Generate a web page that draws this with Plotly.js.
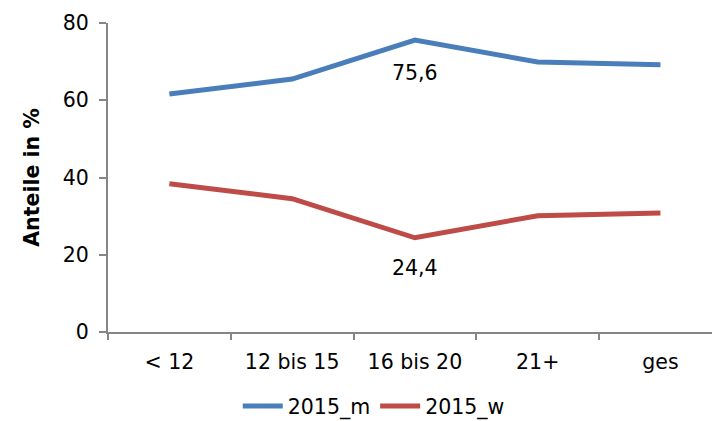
<!DOCTYPE html>
<html>
<head>
<meta charset="utf-8">
<script src="https://cdn.plot.ly/plotly-3.0.1.min.js"></script>
<style>
  body { margin: 0; background: #fff; }
  #graph { width: 712px; height: 421px; }
</style>
</head>
<body>
<div id="graph"></div>
<script>
var categories = ['< 12', '12 bis 15', '16 bis 20', '21+', 'ges'];
var values_m = [61.6, 65.5, 75.6, 69.9, 69.2];
var values_w = [38.4, 34.5, 24.4, 30.1, 30.8];
var labelIndex = 2;

var fontFamily = 'DejaVu Sans, Verdana, sans-serif';

function fmt(v){
    return v.toFixed(1).replace('.', ',');
}

var traceM = {
    type: 'scatter',
    mode: 'lines',
    name: '2015_m',
    x: categories,
    y: values_m,
    line: { color: '#4A7EBB', width: 5 }
};

var traceW = {
    type: 'scatter',
    mode: 'lines',
    name: '2015_w',
    x: categories,
    y: values_w,
    line: { color: '#BE4B48', width: 5 }
};

var layout = {
    width: 712,
    height: 421,
    margin: { l: 108, r: 0, t: 23, b: 89, autoexpand: false },
    paper_bgcolor: '#ffffff',
    plot_bgcolor: '#ffffff',
    font: { family: fontFamily, size: 20.5, color: '#000000' },
    showlegend: true,
    legend: {
        orientation: 'h',
        x: 0.44,
        xanchor: 'center',
        y: -0.305,
        yanchor: 'bottom',
        font: { size: 20.5 },
        itemwidth: 40
    },
    xaxis: {
        type: 'category',
        range: [-0.5, 4.42],
        showgrid: false,
        zeroline: false,
        showline: true,
        linecolor: '#868686',
        linewidth: 2,
        ticks: 'outside',
        tickson: 'boundaries',
        ticklen: 6,
        tickwidth: 2,
        tickcolor: '#868686',
        ticklabelstandoff: 10
    },
    yaxis: {
        range: [0, 80],
        dtick: 20,
        showgrid: false,
        zeroline: false,
        showline: true,
        linecolor: '#868686',
        linewidth: 2,
        ticks: 'outside',
        ticklen: 7,
        tickwidth: 2,
        tickcolor: '#868686',
        ticklabelstandoff: 6,
        title: {
            text: '<b>Anteile in %</b>',
            font: { size: 20.5 },
            standoff: 18
        }
    },
    annotations: [
        {
            x: categories[labelIndex],
            y: values_m[labelIndex],
            text: fmt(values_m[labelIndex]),
            showarrow: false,
            yshift: -33,
            font: { size: 20.5 }
        },
        {
            x: categories[labelIndex],
            y: values_w[labelIndex],
            text: fmt(values_w[labelIndex]),
            showarrow: false,
            yshift: -30,
            font: { size: 20.5 }
        }
    ]
};

Plotly.newPlot('graph', [traceM, traceW], layout, { displayModeBar: false, staticPlot: true });
</script>
</body>
</html>
